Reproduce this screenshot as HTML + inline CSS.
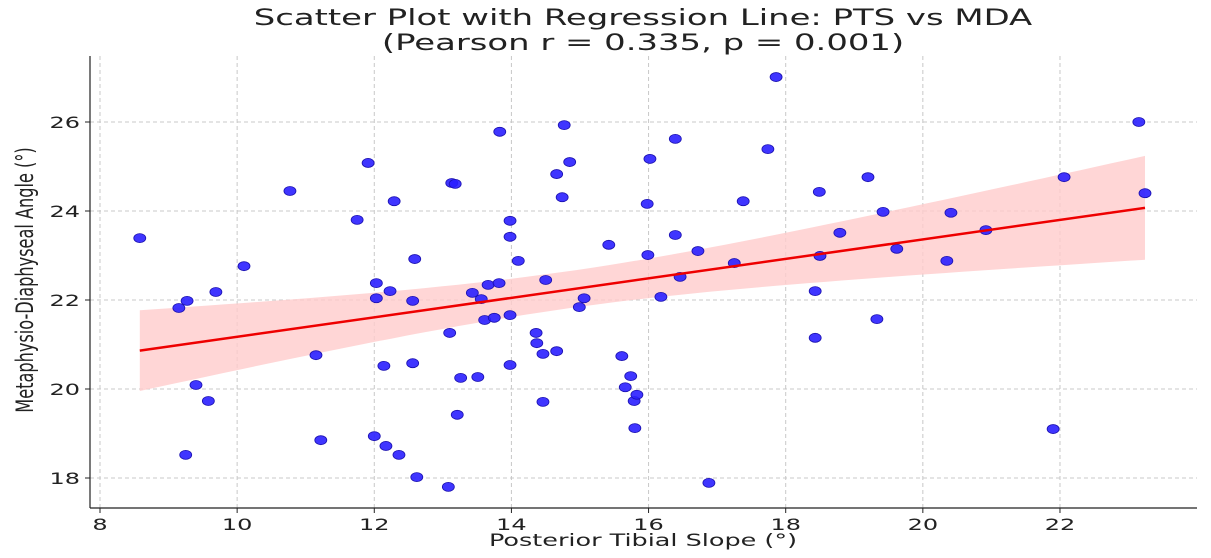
<!DOCTYPE html>
<html><head><meta charset="utf-8">
<style>
html,body{margin:0;padding:0;background:#fff;}
svg{display:block;font-family:"DejaVu Sans","Liberation Sans",sans-serif;}
</style></head>
<body>
<svg id="chart" width="1211" height="558" viewBox="0 0 1211 558" xmlns="http://www.w3.org/2000/svg">
<text transform="translate(643,25) scale(1.54,1)" text-anchor="middle" font-size="22" fill="#222">Scatter Plot with Regression Line: PTS vs MDA</text>
<text transform="translate(643,50) scale(1.54,1)" text-anchor="middle" font-size="22" fill="#222">(Pearson r = 0.335, p = 0.001)</text>
<g id="grid"></g>
<g id="band"></g>
<g id="points"></g>
<g id="line"></g>
<g id="axes"></g>
<text transform="translate(643,546) scale(1.5,1)" text-anchor="middle" font-size="17" fill="#222">Posterior Tibial Slope (°)</text>
<text transform="translate(33,280) rotate(-90) scale(0.85,1.25)" text-anchor="middle" font-size="19" fill="#222">Metaphysio-Diaphyseal Angle (°)</text>
</svg>
<script>
const xTicks=[8,10,12,14,16,18,20,22];
const yTicks=[18,20,22,24,26];
const ptsX=[8.58,9.15,9.27,9.25,9.40,9.58,9.69,10.10,10.77,11.15,11.22,11.75,11.91,12.03,12.03,12.00,12.14,12.17,12.23,12.29,12.36,12.56,12.56,12.59,12.62,13.08,13.10,13.13,13.18,13.21,13.26,13.43,13.51,13.56,13.61,13.66,13.75,13.82,13.83,13.98,13.98,13.98,13.98,14.10,14.36,14.37,14.46,14.46,14.50,14.66,14.66,14.74,14.77,14.85,14.99,15.06,15.42,15.61,15.66,15.74,15.79,15.83,15.80,15.98,15.99,16.02,16.18,16.39,16.39,16.46,16.72,16.88,17.25,17.38,17.74,17.86,18.43,18.43,18.49,18.50,18.79,19.20,19.33,19.42,19.62,20.35,20.41,20.92,21.90,22.06,23.15,23.24];
const mdaY=[23.39,21.82,21.98,18.52,20.09,19.73,22.18,22.76,24.45,20.76,18.85,23.80,25.08,22.38,22.04,18.94,20.52,18.72,22.20,24.22,18.52,20.58,21.98,22.92,18.02,17.80,21.26,24.63,24.61,19.42,20.25,22.16,20.27,22.02,21.55,22.34,21.60,22.38,25.78,21.66,23.78,23.42,20.54,22.88,21.26,21.03,20.79,19.71,22.45,20.85,24.83,24.31,25.93,25.10,21.84,22.04,23.24,20.74,20.04,20.29,19.73,19.87,19.12,24.16,23.01,25.17,22.07,25.62,23.46,22.52,23.10,17.89,22.83,24.22,25.39,27.01,22.20,21.15,24.43,22.99,23.51,24.76,21.57,23.98,23.15,22.88,23.96,23.57,19.10,24.76,26.00,24.40];
const NS="http://www.w3.org/2000/svg";
const L=90,R=1197,T=56,B=508;
const sx=v=>100+(v-8)*68.57;
const sy=v=>478-(v-18)*44.5;
function mk(tag,attrs,parent){const e=document.createElementNS(NS,tag);for(const k in attrs)e.setAttribute(k,attrs[k]);document.getElementById(parent).appendChild(e);return e;}
xTicks.forEach(t=>{
 const g=mk('line',{x1:sx(t),x2:sx(t),y1:T,y2:B,stroke:'#c8c8c8','stroke-dasharray':'4,3','stroke-width':1},'grid');
 
 const k=mk('line',{x1:sx(t),x2:sx(t),y1:B,y2:B+5,stroke:'#222'},'axes');
 
 const l=mk('text',{transform:'translate('+sx(t)+','+(B+22)+') scale(1.5,1)','text-anchor':'middle','font-size':16,fill:'#222'},'axes');l.textContent=t;
 
});
yTicks.forEach(t=>{
 const g=mk('line',{x1:L,x2:R,y1:sy(t),y2:sy(t),stroke:'#c8c8c8','stroke-dasharray':'4,3','stroke-width':1},'grid');
 
 const k=mk('line',{x1:L-5,x2:L,y1:sy(t),y2:sy(t),stroke:'#222'},'axes');
 
 const l=mk('text',{transform:'translate('+(L-10)+','+(sy(t)+6)+') scale(1.5,1)','text-anchor':'end','font-size':16,fill:'#222'},'axes');l.textContent=t;
 
});
const ax1=mk('line',{x1:L,x2:L,y1:T,y2:B,stroke:'#222','stroke-width':1.2},'axes');

const ax2=mk('line',{x1:L,x2:R,y1:B,y2:B,stroke:'#222','stroke-width':1.2},'axes');

const n=ptsX.length;
const mx=ptsX.reduce((a,b)=>a+b,0)/n, my=mdaY.reduce((a,b)=>a+b,0)/n;
let sxx=0,sxy=0;for(let i=0;i<n;i++){sxx+=(ptsX[i]-mx)**2;sxy+=(ptsX[i]-mx)*(mdaY[i]-my);}
const slope=sxy/sxx, icpt=my-slope*mx;
let sse=0;for(let i=0;i<n;i++){sse+=(mdaY[i]-icpt-slope*ptsX[i])**2;}
const se=Math.sqrt(sse/(n-2)), tq=1.99;
const xmin=Math.min(...ptsX), xmax=Math.max(...ptsX);
const up=[],lo=[];
for(let k=0;k<=60;k++){const x=xmin+(xmax-xmin)*k/60;const yh=icpt+slope*x;const h=tq*se*Math.sqrt(1/n+(x-mx)**2/sxx);
 up.push(sx(x).toFixed(1)+','+sy(yh+h).toFixed(1));lo.unshift(sx(x).toFixed(1)+','+sy(yh-h).toFixed(1));}
const band=mk('polygon',{points:up.concat(lo).join(' '),fill:'#ffcccc','fill-opacity':0.8,stroke:'none'},'band');

for(let i=0;i<n;i++){
 const c=mk('ellipse',{cx:sx(ptsX[i]),cy:sy(mdaY[i]),rx:6,ry:4.5,fill:'#2a1fff',stroke:'#1a10b0','stroke-width':0.8,'fill-opacity':0.9},'points');
 
}
const rl=mk('line',{x1:sx(xmin),y1:sy(icpt+slope*xmin),x2:sx(xmax),y2:sy(icpt+slope*xmax),stroke:'#ee0000','stroke-width':2.5},'line');

</script>
</body></html>
